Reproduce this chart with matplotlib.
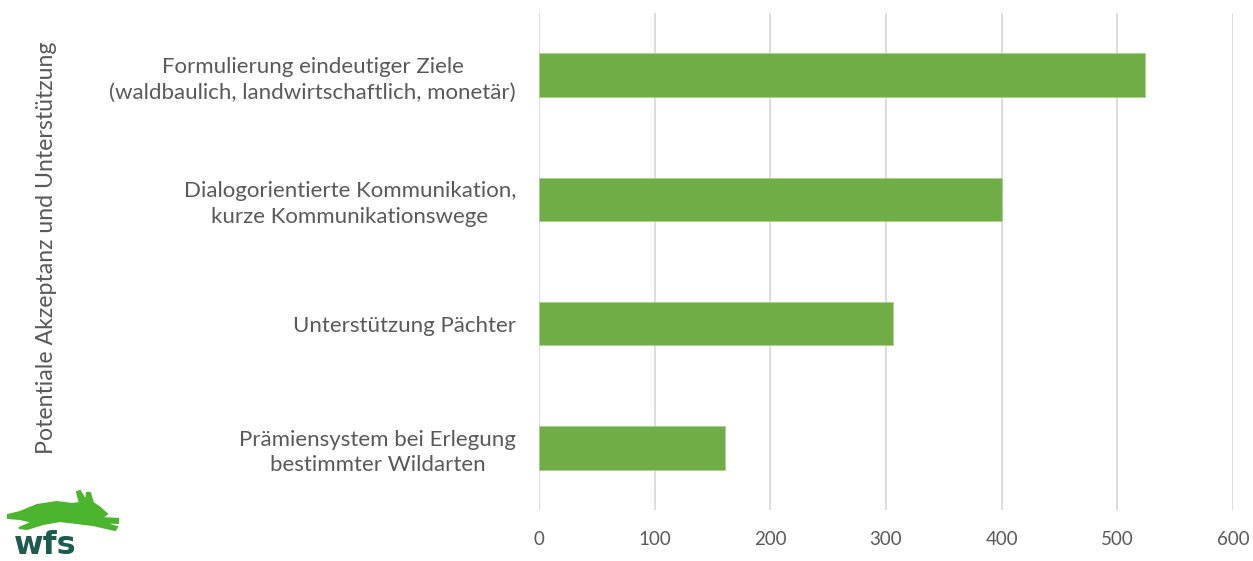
import matplotlib
matplotlib.use("Agg")
import matplotlib.pyplot as plt
from matplotlib.patches import Polygon

categories = [
    "Formulierung eindeutiger Ziele\n(waldbaulich, landwirtschaftlich, monetär)",
    "Dialogorientierte Kommunikation,\nkurze Kommunikationswege",
    "Unterstützung Pächter",
    "Prämiensystem bei Erlegung\nbestimmter Wildarten",
]
values = [524, 400, 306, 161]
xticks = [0, 100, 200, 300, 400, 500, 600]
ylabel = "Potentiale Akzeptanz und Unterstützung"

W, H = 1253, 561
fig = plt.figure(figsize=(W / 100, H / 100), dpi=100)
plt.rcParams['font.family'] = ['Lato', 'DejaVu Sans']

left, right, top, bottom = 539, 1233, 13, 510
ax = fig.add_axes([left / W, 1 - bottom / H, (right - left) / W, (bottom - top) / H])

bar_color = "#70ad47"
text_color = "#595959"
pos = list(range(len(categories)))[::-1]
ax.barh(pos, values, height=0.35, color=bar_color, edgecolor="#a9d18e", linewidth=0.6, zorder=3)

ax.set_xlim(0, 600)
ax.set_ylim(-0.5, len(categories) - 0.5)
ax.set_xticks(xticks)
ax.set_xticklabels([str(t) for t in xticks])
ax.set_yticks(pos)
ax.set_yticklabels(categories, multialignment="center")
ax.grid(axis="x", color="#d9d9d9", linewidth=1.3, zorder=0)
ax.grid(axis="y", visible=False)
for s in ax.spines.values():
    s.set_visible(False)
ax.tick_params(axis="both", length=0, colors=text_color)
ax.tick_params(axis="x", pad=15, labelsize=13.5)
ax.tick_params(axis="y", pad=16.5, labelsize=16)
for lbl in ax.get_yticklabels():
    lbl.set_linespacing(1.35)

fig.text(47 / W, 1 - 248 / H, ylabel, rotation=90, ha="center", va="center",
         color=text_color, fontsize=16.7)

# logo (decoration)
def px(pts):
    return [(x / W, 1 - y / H) for x, y in pts]

hare = [(8, 515), (20, 512), (37, 505), (57, 502), (72, 504), (80, 503),
        (77, 492), (80, 491), (86, 501), (87, 493), (90, 493), (93, 503),
        (99, 507), (107, 514), (101, 518), (118, 519), (118, 523), (101, 522),
        (117, 527), (115, 530), (93, 525), (77, 523), (60, 521), (43, 524),
        (27, 529), (19, 528), (33, 522), (20, 519), (8, 518)]
fig.patches.append(Polygon(px(hare), closed=True, transform=fig.transFigure,
                           facecolor="#4cb52e", edgecolor="#4cb52e", linewidth=1.5))
fig.text(14 / W, 1 - 554 / H, "wfs", fontsize=23, fontweight="bold",
         color="#1b5c4f", family="DejaVu Sans", ha="left", va="baseline")

fig.savefig("out.png", dpi=100, facecolor="white")
